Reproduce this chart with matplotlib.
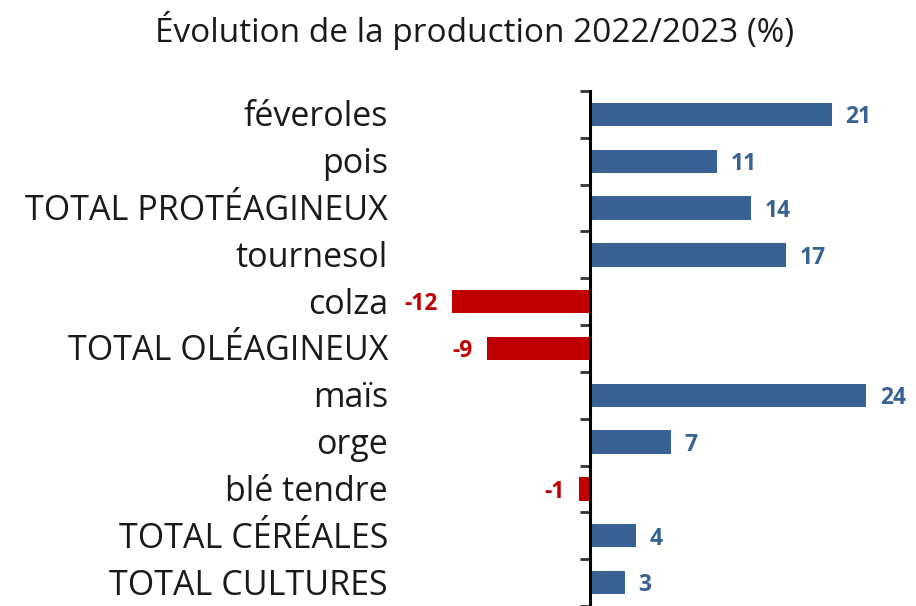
import matplotlib
matplotlib.use("Agg")
import matplotlib.pyplot as plt
import matplotlib.transforms as mtransforms
import numpy as np

categories = ["féveroles", "pois", "TOTAL PROTÉAGINEUX", "tournesol", "colza",
              "TOTAL OLÉAGINEUX", "maïs", "orge", "blé tendre", "TOTAL CÉRÉALES",
              "TOTAL CULTURES"]
values = [21, 11, 14, 17, -12, -9, 24, 7, -1, 4, 3]
title = "Évolution de la production 2022/2023 (%)"

BLUE = "#386293"
RED = "#C00000"
FONT = ["Open Sans", "DejaVu Sans"]

W, H = 916, 606
fig = plt.figure(figsize=(W / 100, H / 100), dpi=100)
ax_left = 395 / W
ax_top = 1 - 91 / H
ax = fig.add_axes([ax_left, 0.0, 1 - ax_left, ax_top])

px_per_unit = 11.5
x0_px = 590
xmin = (395 - x0_px) / px_per_unit
xmax = (W - x0_px) / px_per_unit
ax.set_xlim(xmin, xmax)
n = len(categories)
ax.set_ylim(n - 1 + (606 - 585) / 47.05, -0.5)

y = np.arange(n)
colors = [BLUE if v >= 0 else RED for v in values]
ax.barh(y, values, height=0.5, color=colors, zorder=2)

for spine in ["top", "right", "bottom"]:
    ax.spines[spine].set_visible(False)
ax.spines["left"].set_position(("data", 0))
ax.spines["left"].set_linewidth(2.2)
ax.spines["left"].set_color("black")
ax.spines["left"].set_zorder(3)
ax.set_xticks([])
ax.set_yticks(y)
ax.set_yticklabels([])
ax.tick_params(axis="y", which="major", length=0)
ax.set_yticks(np.arange(-0.5, n, 1), minor=True)
ax.tick_params(axis="y", which="minor", length=7, width=2, color="#333333", direction="out")

# category labels at fixed position left of the plot
trans = mtransforms.blended_transform_factory(fig.transFigure, ax.transData)
trans = mtransforms.offset_copy(trans, fig=fig, x=0, y=-3, units="dots")
for yi, cat in zip(y, categories):
    ax.text(388 / W, yi, cat, transform=trans, ha="right", va="center",
            fontsize=24.5, color="#1a1a1a", family=FONT)

# value labels
for yi, v, c in zip(y, values, colors):
    if v >= 0:
        ax.annotate(f"{v}", (v, yi), xytext=(10, -2), textcoords="offset points",
                    ha="left", va="center", fontsize=16.5, fontweight="bold",
                    color=c, family=FONT)
    else:
        ax.annotate(f"{v}", (v, yi), xytext=(-10, -2), textcoords="offset points",
                    ha="right", va="center", fontsize=16.5, fontweight="bold",
                    color=c, family=FONT)

fig.text(475 / W, 1 - 30 / H, title, ha="center", va="center",
         fontsize=24, color="#1a1a1a", family=FONT)

# stray clipped glyph at left edge
fig.text(6 / W, 1 - 538 / H, "1", ha="right", va="center", fontsize=24.5,
         color="#555555", family=FONT)

fig.savefig("out.png", dpi=100)
